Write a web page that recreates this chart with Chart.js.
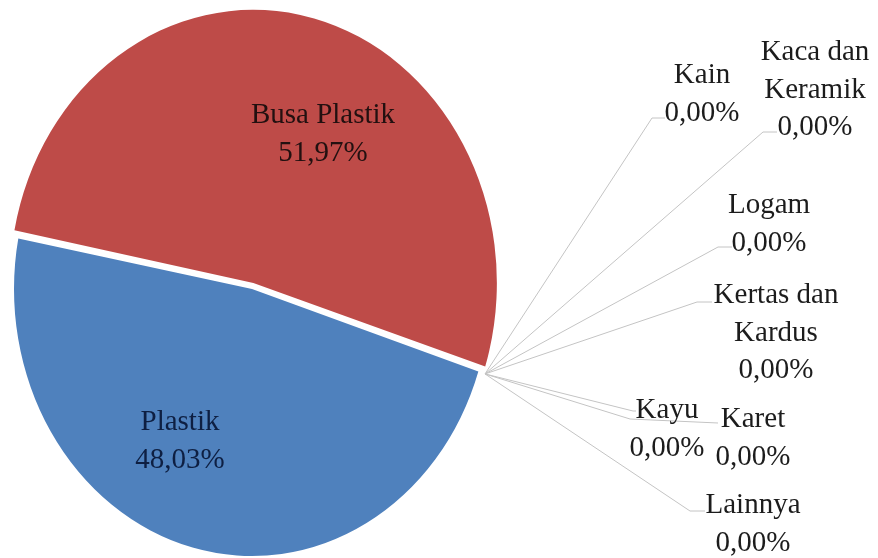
<!DOCTYPE html>
<html>
<head>
<meta charset="utf-8">
<script src="https://cdn.jsdelivr.net/npm/chart.js@4"></script>
<style>
  html, body { margin: 0; padding: 0; background: #fff; }
  #wrap { position: relative; width: 878px; height: 558px; }
</style>
</head>
<body>
<div id="wrap"><canvas id="chart"></canvas></div>
<script>
const categories = ["Plastik", "Busa Plastik", "Kain", "Kaca dan Keramik", "Logam", "Kertas dan Kardus", "Kayu", "Karet", "Lainnya"];
const shares = [48.03, 51.97, 0, 0, 0, 0, 0, 0, 0];
const nameLines = [["Plastik"], ["Busa Plastik"], ["Kain"], ["Kaca dan", "Keramik"], ["Logam"], ["Kertas dan", "Kardus"], ["Kayu"], ["Karet"], ["Lainnya"]];

const RED = '#BE4B48';
const BLUE = '#4F81BD';
const LEADER = '#c4c4c4';
const SY = 1.122; // pie is drawn a bit taller than wide

// where each label sits: centre x, first baseline, and leader end (elbow, stub end)
const labelPos = [
  { x: 180, y: 430, color: '#0e1f42' },
  { x: 323, y: 123, color: '#221010' },
  { x: 702, y: 83,  leader: [[652, 118], [665, 118]] },
  { x: 815, y: 60,  leader: [[763, 132], [777, 132]] },
  { x: 769, y: 213, leader: [[718, 247], [732, 247]] },
  { x: 776, y: 303, leader: [[697, 302], [712, 302]] },
  { x: 667, y: 418, leader: [[633, 411], [636, 411]] },
  { x: 753, y: 427, leader: [[630, 419], [718, 423]] },
  { x: 753, y: 513, leader: [[690, 511], [705, 511]] },
];
const LINE_STEP = 37.5;

const fmt = v => v.toFixed(2).replace('.', ',') + '%';

const pieLabels = {
  id: 'pieLabels',
  beforeDatasetsDraw(chart) {
    const arc = chart.getDatasetMeta(0).data[0];
    const ctx = chart.ctx;
    ctx.save();
    ctx.translate(arc.x, arc.y);
    ctx.scale(1, SY);
    ctx.translate(-arc.x, -arc.y);
  },
  afterDatasetsDraw(chart) {
    const ctx = chart.ctx;
    ctx.restore();
    const arcs = chart.getDatasetMeta(0).data;

    // leader lines for the empty slices
    ctx.save();
    ctx.strokeStyle = LEADER;
    ctx.lineWidth = 1;
    arcs.forEach((a, i) => {
      const p = labelPos[i];
      if (!p.leader) return;
      const ang = (a.startAngle + a.endAngle) / 2;
      const r = a.outerRadius + 7;
      ctx.beginPath();
      ctx.moveTo(a.x + Math.cos(ang) * r, a.y + Math.sin(ang) * r * SY);
      p.leader.forEach(pt => ctx.lineTo(pt[0], pt[1]));
      ctx.stroke();
    });
    ctx.restore();

    // text
    ctx.save();
    ctx.font = '29px "Liberation Serif", serif';
    ctx.textAlign = 'center';
    ctx.textBaseline = 'alphabetic';
    categories.forEach((c, i) => {
      const p = labelPos[i];
      const lines = nameLines[i].concat([fmt(shares[i])]);
      ctx.fillStyle = p.color || '#1c1c1c';
      lines.forEach((t, k) => ctx.fillText(t, p.x, p.y + k * LINE_STEP));
    });
    ctx.restore();
  }
};

new Chart(document.getElementById('chart'), {
  type: 'pie',
  data: {
    labels: categories,
    datasets: [{
      data: shares,
      backgroundColor: [BLUE, RED, '#9BBB59', '#8064A2', '#4BACC6', '#F79646', '#2C4D75', '#772C2A', '#5F7530'],
      borderWidth: 0,
      offset: [0, 22, 0, 0, 0, 0, 0, 0, 0],
    }]
  },
  options: {
    responsive: true,
    maintainAspectRatio: false,
    animation: false,
    events: [],
    rotation: 108,
    radius: 238,
    layout: { padding: { left: 0, right: 374, top: 20, bottom: 0 } },
    plugins: {
      legend: { display: false },
      tooltip: { enabled: false }
    }
  },
  plugins: [pieLabels]
});
</script>
</body>
</html>
